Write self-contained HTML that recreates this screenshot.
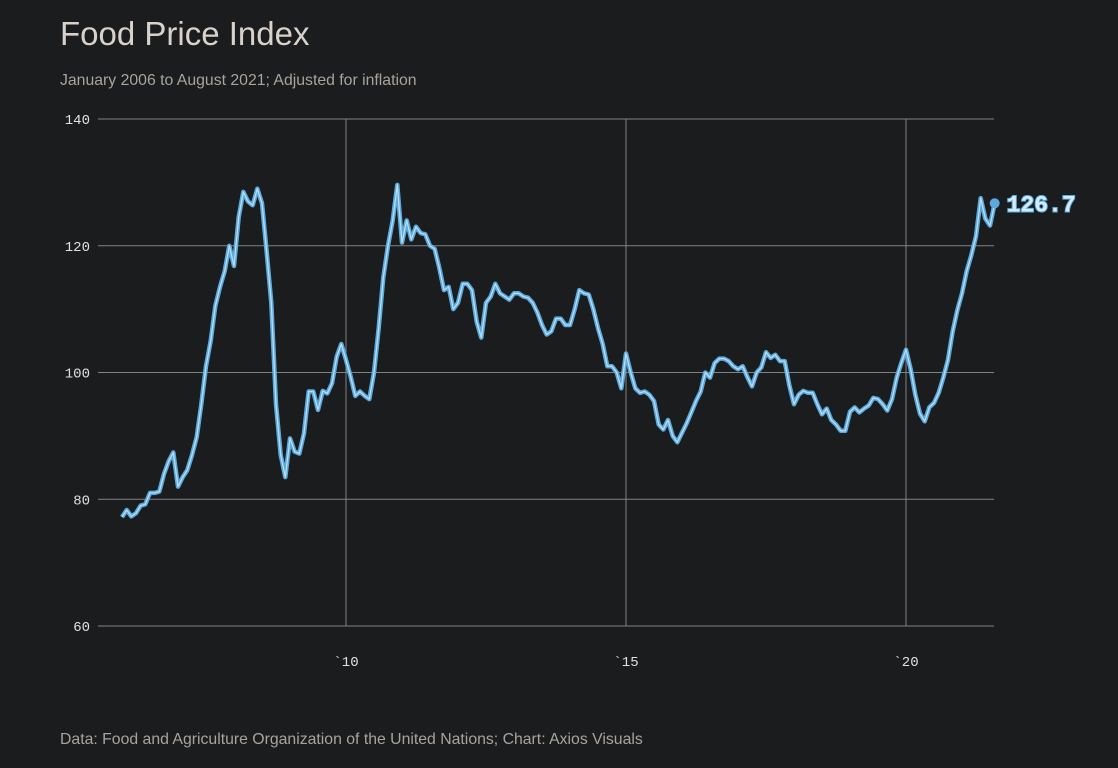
<!DOCTYPE html>
<html><head><meta charset="utf-8"><style>
html,body{margin:0;padding:0;background:#1b1c1e;}
body{width:1118px;height:768px;position:relative;overflow:hidden;font-family:"Liberation Sans",sans-serif;}
.t{position:absolute;left:60px;top:15px;font-size:33px;color:#d9d2ca;}
.s{position:absolute;left:60px;top:72px;font-size:15.8px;color:#a9a39c;}
.f{position:absolute;left:60px;top:731px;font-size:15.8px;color:#a9a39c;}
svg{position:absolute;left:0;top:0;}
</style></head><body>
<div class="t">Food Price Index</div>
<div class="s">January 2006 to August 2021; Adjusted for inflation</div>
<svg id="c" width="1118" height="768"></svg>
<div class="f">Data: Food and Agriculture Organization of the United Nations; Chart: Axios Visuals</div>
<script>
const values=[77.2,78.3,77.3,77.8,79,79.2,81,81,81.2,84,86,87.4,82,83.5,84.6,87,89.8,95,101,105,110.5,113.5,116,120,116.8,124.5,128.5,127,126.4,129,126.7,119,111,95,87,83.5,89.6,87.5,87.2,90.4,97,97,94.1,97.1,96.7,98.3,102.5,104.5,102,99.3,96.3,97,96.3,95.8,100,107,115,120,124,129.6,120.5,124,121,123,122,121.8,120,119.5,116.5,113,113.5,110,111,114,114,113,108,105.5,111,112,114,112.5,112,111.5,112.5,112.5,112,111.8,111,109.5,107.5,106,106.5,108.5,108.5,107.5,107.5,110,113,112.5,112.3,110,107,104.5,101,101,100,97.5,103,100,97.5,96.8,97,96.5,95.5,91.8,91,92.5,90,89,90.5,92,93.7,95.5,97,100,99.2,101.5,102.2,102.2,101.8,101,100.5,101,99.3,97.8,100,100.8,103.2,102.3,102.8,101.8,101.8,98,95,96.5,97.1,96.8,96.8,95,93.4,94.3,92.5,91.8,90.8,90.8,93.8,94.5,93.7,94.3,94.8,96,95.8,95,94,95.8,99.2,101.5,103.6,100.5,96.5,93.5,92.3,94.5,95.2,96.8,99.2,102,106.5,109.8,112.5,116,118.5,121.5,127.5,124.3,123.2,126.7];
const yTicks=[60,80,100,120,140];
const xTicks=[2010,2015,2020];
const xTickLabels=["`10","`15","`20"];
const startYear=2006;
const lastLabel="126.7";
const NS="http://www.w3.org/2000/svg";
const svg=document.getElementById('c');
const X=yr=>346+(yr-2010)*56;
const Y=v=>119+(140-v)*(507/80);
const xm=i=>X(startYear+i/12);
function mk(t,a){const e=document.createElementNS(NS,t);for(const k in a)e.setAttribute(k,a[k]);svg.appendChild(e);return e;}
yTicks.forEach(v=>{
  const l=mk('line',{x1:98,x2:994,y1:Y(v),y2:Y(v),stroke:'#818284','stroke-width':1});
  
  
  const t=mk('text',{x:90,y:Y(v)+5,'text-anchor':'end',fill:'#e0e0e0','font-size':14,'font-family':'Liberation Mono, monospace'});
  t.textContent=v;
  
  
});
xTicks.forEach((yr,k)=>{
  const l=mk('line',{x1:X(yr),x2:X(yr),y1:119,y2:Y(60),stroke:'#818284','stroke-width':1});
  
  
  const t=mk('text',{x:X(yr),y:666,'text-anchor':'middle',fill:'#e0e0e0','font-size':14,'font-family':'Liberation Mono, monospace'});
  t.textContent=xTickLabels[k];
  
  
});
const pts=values.map((v,i)=>xm(i).toFixed(1)+','+Y(v).toFixed(1)).join(' ');
const outer=mk('polyline',{points:pts,fill:'none',stroke:'#5aaade','stroke-width':4.5,'stroke-linejoin':'round'});


const inner=mk('polyline',{points:pts,fill:'none',stroke:'#bcdcf2','stroke-width':1.3,'stroke-linejoin':'round'});


const n=values.length-1;
const dot=mk('circle',{cx:xm(n),cy:Y(values[n]),r:5,fill:'#5aaade'});


const lab=mk('text',{x:xm(n)+12,y:Y(values[n])+8,fill:'#d6ebf8',stroke:'#5aaade','stroke-width':2,'paint-order':'stroke','font-size':23,'font-weight':'bold','font-family':'Liberation Mono, monospace'});
lab.textContent=lastLabel;


</script>
</body></html>
